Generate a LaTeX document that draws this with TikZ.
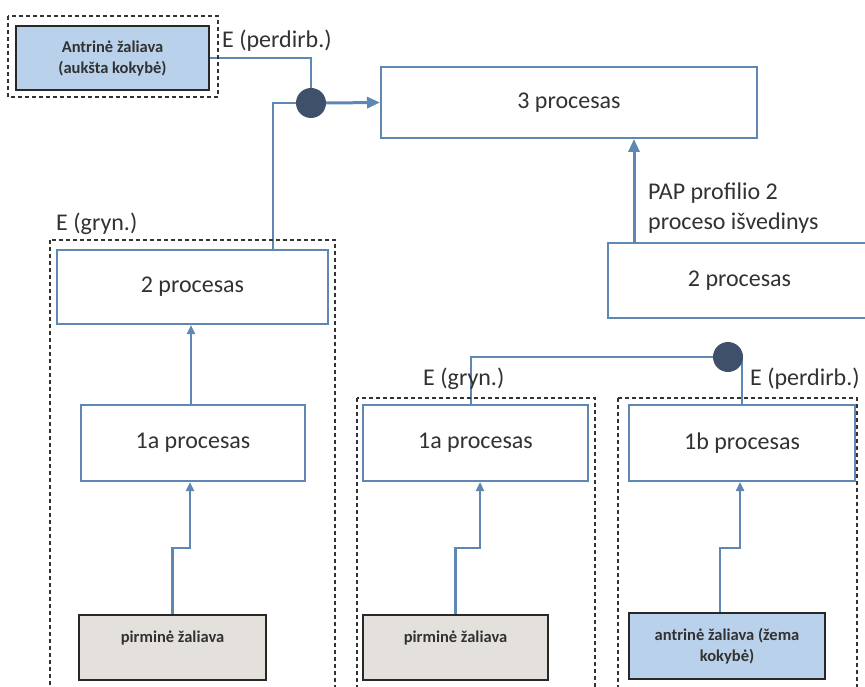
\documentclass[tikz,border=0pt]{standalone}
\usepackage{fontspec}
\setmainfont{Carlito}
\usetikzlibrary{arrows.meta,backgrounds}
\definecolor{lineblue}{RGB}{95,135,180}
\definecolor{junc}{RGB}{62,80,106}
\definecolor{lightblue}{RGB}{185,209,234}
\definecolor{rawgray}{RGB}{228,224,220}
\definecolor{darkline}{RGB}{40,40,40}
\definecolor{textgray}{RGB}{50,50,50}
\tikzset{
  proc/.style={draw=lineblue, line width=2pt, fill=white, inner sep=0pt,
    font=\fontsize{24}{29}\selectfont, text=textgray},
  raw/.style={draw=darkline, line width=2pt, inner sep=0pt, align=center,
    font=\bfseries\fontsize{16.5}{21}\selectfont, text=textgray},
  grp/.style={draw=black!80, line width=1.2pt, dash pattern=on 4pt off 3pt},
  flowbig/.style={draw=lineblue, line width=3pt, -{Triangle[length=13pt,width=11pt]}},
  flow/.style={draw=lineblue, line width=2.5pt, -{Triangle[length=9pt,width=8pt]}},
  feed/.style={draw=lineblue, line width=1.5pt},
  junction/.style={circle, fill=junc, minimum size=30pt, inner sep=0pt},
  lbl/.style={font=\fontsize{24}{30}\selectfont, text=textgray, inner sep=0pt},
}
\begin{document}
\begin{tikzpicture}[x=1pt,y=-1pt]
\useasboundingbox (0,0) rectangle (865,687);
\clip (0,0) rectangle (865,687);

% group frames
\draw[grp] (8,16) rectangle (218,97);
\draw[grp] (50,240) rectangle (335,700);
\draw[grp] (357,398) rectangle (595,700);
\draw[grp] (618,398) rectangle (857,700);

% nodes
\node[raw, fill=lightblue, minimum width=193pt, minimum height=64pt] (tl) at (112.5,58) {Antrinė žaliava\\(aukšta kokybė)};
\node[proc, minimum width=376pt, minimum height=71pt] (p3) at (569,102.5) {3 procesas};
\node[proc, anchor=west, minimum width=263pt, minimum height=75pt] (p2r) at (607,280.5) {\makebox[250pt]{2 procesas}\hspace{13pt}};
\node[proc, minimum width=271pt, minimum height=74pt] (p2l) at (192.5,287) {2 procesas};
\node[proc, minimum width=224pt, minimum height=76pt] (p1al) at (193,443) {1a procesas};
\node[proc, minimum width=225pt, minimum height=76pt] (p1am) at (475.5,443) {1a procesas};
\node[proc, minimum width=226pt, minimum height=76pt] (p1b) at (742,443) {1b procesas};
\node[raw, fill=rawgray, minimum width=187pt, minimum height=65pt] (pl) at (172.5,647.5) {pirminė žaliava\\\mbox{}};
\node[raw, fill=rawgray, minimum width=185pt, minimum height=65pt] (pm) at (455.5,647.5) {pirminė žaliava\\\mbox{}};
\node[raw, fill=lightblue, minimum width=196pt, minimum height=66pt] (pr) at (727,646) {antrinė žaliava (žema\\kokybė)};
\node[junction] (c1) at (311,103) {};
\node[junction] (c2) at (728,357) {};

% labels
\node[lbl, anchor=base west] (e1) at (222,48) {E (perdirb.)};
\node[lbl, anchor=base west] (e2) at (56,231) {E (gryn.)};
\node[lbl, anchor=base west] (e3) at (423,385) {E (gryn.)};
\node[lbl, anchor=base west] (e4) at (750,385) {E (perdirb.)};
\node[lbl, anchor=base west] (pap1) at (648,200) {PAP profilio 2};
\node[lbl, anchor=base west] (pap2) at (648,230) {proceso išvedinys};

% helper coordinates
\coordinate (xa) at (273,0);
\coordinate (xb) at (634,0);
\coordinate (xc) at (191,0);
\coordinate (xm) at (471,0);
\coordinate (kr) at (720,0);
\coordinate (jl) at (190,548);
\coordinate (jm) at (480,548);
\coordinate (jr) at (740,548);

\begin{scope}[on background layer]
\fill[white] (0,0) rectangle (865,687);
\draw[feed] (tl.east) -| (c1.north);
\draw[feed, line width=2pt] (p2l.north -| xa) |- (c1.west);
\draw[feed] (p1am.north -| xm) |- (c2.west);
\draw[feed] (p1b.north) -- (p1b.north |- c2.center);
\end{scope}

\draw[flowbig] (c1.east) -- (p3.west);
\draw[flowbig] (p2r.north -| xb) -- (p3.south -| xb);
\draw[flow] (p1al.north -| xc) -- (p2l.south -| xc);
\draw[flow] (pl.north) |- (jl) -- (p1al.south -| jl);
\draw[flow] (pm.north) |- (jm) -- (p1am.south -| jm);
\draw[flow] (pr.north -| kr) |- (jr) -- (p1b.south -| jr);
\end{tikzpicture}
\end{document}
